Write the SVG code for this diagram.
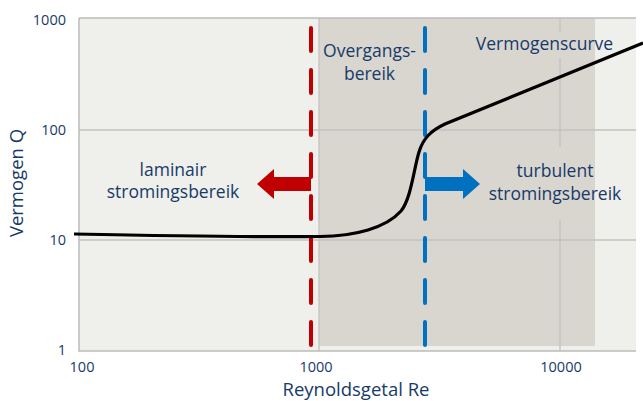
<svg xmlns="http://www.w3.org/2000/svg" width="643" height="401" viewBox="0 0 643 401">
  <style>
    text { font-family: "Open Sans", "Noto Sans", "Liberation Sans", sans-serif; fill: #173a69; font-weight: 500; }
    .lbl { font-size: 17.5px; text-anchor: middle; }
    .tick { font-size: 14.5px; }
    .ytick { text-anchor: end; }
    .xtick { text-anchor: middle; }
    .axis { font-size: 18.5px; text-anchor: middle; }
    .grid { stroke: #c2c2c2; stroke-width: 1.3; fill: none; }
    .frame { stroke: #bcbcbc; stroke-width: 1.5; fill: none; }
    .dash { stroke-width: 4; stroke-linecap: round; stroke-dasharray: 23 19; fill: none; }
  </style>
  <rect width="643" height="401" fill="#ffffff"/>
  <g id="plot-area">
    <rect x="79" y="18" width="557" height="333" fill="#efefeb"/>
    <rect x="319" y="18" width="276" height="328" fill="#d9d6d0"/>
    <line class="grid" x1="79" y1="130" x2="636" y2="130"/>
    <line class="grid" x1="79" y1="240" x2="636" y2="240"/>
    <line class="grid" x1="319" y1="18" x2="319" y2="351"/>
    <line class="grid" x1="560" y1="18" x2="560" y2="351"/>
    <rect x="552" y="32" width="16" height="26" fill="#d9d6d0"/>
    <rect x="552" y="147" width="16" height="73" fill="#d9d6d0"/>
    <path class="frame" d="M79,18 H636 M79,18 V351 H636"/>
  </g>
  <g id="y-ticks">
    <text class="tick ytick" x="66" y="25">1000</text>
    <text class="tick ytick" x="66" y="135">100</text>
    <text class="tick ytick" x="66" y="245">10</text>
    <text class="tick ytick" x="66" y="355">1</text>
  </g>
  <g id="x-ticks">
    <text class="tick xtick" x="82" y="371.5">100</text>
    <text class="tick xtick" x="316" y="371.5">1000</text>
    <text class="tick xtick" x="561" y="371.5">10000</text>
  </g>
  <g id="axis-titles">
    <text class="axis" x="356" y="396">Reynoldsgetal Re</text>
    <text class="axis" transform="translate(23,183) rotate(-90)">Vermogen Q</text>
  </g>
  <g id="connectors">
    <line id="laminar-limit" class="dash" stroke="#c00000" x1="311" y1="28" x2="311" y2="345"/>
    <line id="turbulent-limit" class="dash" stroke="#0070c0" x1="425" y1="28" x2="425" y2="345"/>
    <path id="power-curve" d="M74,234 C180,236 260,237.5 320,236.5 C355,236 386,228 401,211 C411,199 414,168 419,152 C423,139 430,131 445,124 L643,43" fill="none" stroke="#000000" stroke-width="3.2"/>
    <polygon id="arrow-laminar" fill="#c00000" points="311,177 274,177 274,169 257,184 274,199 274,191 311,191"/>
    <polygon id="arrow-turbulent" fill="#0070c0" points="425,177 463,177 463,169 480,184 463,199 463,191 425,191"/>
  </g>
  <g id="label-transition">
    <text class="lbl" x="369.5" y="57">Overgangs-</text>
    <text class="lbl" x="369.5" y="80">bereik</text>
  </g>
  <g id="label-curve">
    <text class="lbl" x="544.5" y="50">Vermogenscurve</text>
  </g>
  <g id="label-laminar">
    <text class="lbl" x="173" y="176">laminair</text>
    <text class="lbl" x="173" y="198">stromingsbereik</text>
  </g>
  <g id="label-turbulent">
    <text class="lbl" x="555" y="177">turbulent</text>
    <text class="lbl" x="555" y="200">stromingsbereik</text>
  </g>
</svg>
